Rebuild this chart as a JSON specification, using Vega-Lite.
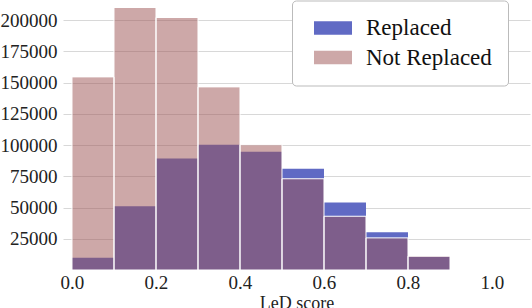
{
  "$schema": "https://vega.github.io/schema/vega-lite/v6.json",
  "width": 467,
  "height": 270,
  "autosize": {"type": "none"},
  "padding": {"left": 63, "top": 0, "right": 2, "bottom": 38},
  "background": "white",
  "config": {
    "view": {"stroke": null},
    "font": "Liberation Serif",
    "axis": {"labelColor": "#222", "titleColor": "#222", "titleFontWeight": "normal"}
  },
  "data": {"values": [
    {"bin_start": 0.0, "bin_end": 0.1, "count": 154500, "group": "Not Replaced"},
    {"bin_start": 0.1, "bin_end": 0.2, "count": 210000, "group": "Not Replaced"},
    {"bin_start": 0.2, "bin_end": 0.3, "count": 202000, "group": "Not Replaced"},
    {"bin_start": 0.3, "bin_end": 0.4, "count": 146500, "group": "Not Replaced"},
    {"bin_start": 0.4, "bin_end": 0.5, "count": 100200, "group": "Not Replaced"},
    {"bin_start": 0.5, "bin_end": 0.6, "count": 73000, "group": "Not Replaced"},
    {"bin_start": 0.6, "bin_end": 0.7, "count": 43000, "group": "Not Replaced"},
    {"bin_start": 0.7, "bin_end": 0.8, "count": 25700, "group": "Not Replaced"},
    {"bin_start": 0.8, "bin_end": 0.9, "count": 11100, "group": "Not Replaced"},
    {"bin_start": 0.0, "bin_end": 0.1, "count": 9800, "group": "Replaced"},
    {"bin_start": 0.1, "bin_end": 0.2, "count": 51000, "group": "Replaced"},
    {"bin_start": 0.2, "bin_end": 0.3, "count": 89300, "group": "Replaced"},
    {"bin_start": 0.3, "bin_end": 0.4, "count": 100200, "group": "Replaced"},
    {"bin_start": 0.4, "bin_end": 0.5, "count": 94700, "group": "Replaced"},
    {"bin_start": 0.5, "bin_end": 0.6, "count": 81000, "group": "Replaced"},
    {"bin_start": 0.6, "bin_end": 0.7, "count": 54000, "group": "Replaced"},
    {"bin_start": 0.7, "bin_end": 0.8, "count": 30200, "group": "Replaced"},
    {"bin_start": 0.8, "bin_end": 0.9, "count": 10600, "group": "Replaced"}
  ]},
  "encoding": {
    "x": {"field": "bin_start", "type": "quantitative",
      "scale": {"domain": [-0.0214, 1.0905], "nice": false, "zero": false},
      "axis": {"title": "LeD score", "values": [0, 0.2, 0.4, 0.6, 0.8, 1.0], "format": ".1f", "grid": false, "domain": false, "ticks": false, "labelFont": "Liberation Serif", "labelFontSize": 19, "labelPadding": 3, "titleFont": "Liberation Serif", "titleFontSize": 18, "titlePadding": 2}},
    "x2": {"field": "bin_end"},
    "y": {"field": "count", "type": "quantitative",
      "scale": {"domain": [0, 216000], "nice": false},
      "axis": {"title": null, "values": [25000, 50000, 75000, 100000, 125000, 150000, 175000, 200000], "format": "d", "grid": true, "gridColor": "#d8d8d8", "gridWidth": 1, "domain": false, "ticks": false, "labelFont": "Liberation Serif", "labelFontSize": 19, "labelPadding": 6}},
    "y2": {"datum": 0}
  },
  "layer": [
    {
      "transform": [{"filter": "datum.group === 'Replaced'"}],
      "mark": {"type": "rect", "stroke": null},
      "encoding": {
        "color": {"field": "group", "type": "nominal",
          "scale": {"domain": ["Replaced", "Not Replaced"], "range": ["#606ac4", "#9b5151"]},
          "legend": {"title": null, "orient": "none", "legendX": 229, "legendY": 0.5,
            "fillColor": "white", "strokeColor": "#bbbbbb", "cornerRadius": 4, "padding": 16,
            "symbolType": "M-2,-0.7H2V0.7H-2Z", "symbolSize": 361, "symbolStrokeWidth": 0, "symbolOffset": 13.5,
            "labelFont": "Liberation Serif", "labelFontSize": 23, "labelColor": "#111", "labelOffset": 21.5, "rowPadding": 5.5}},
        "opacity": {"field": "group", "type": "nominal",
          "scale": {"domain": ["Replaced", "Not Replaced"], "range": [1, 0.5]}}
      }
    },
    {
      "transform": [{"filter": "datum.group === 'Not Replaced'"}],
      "mark": {"type": "rect", "stroke": null},
      "encoding": {
        "color": {"field": "group", "type": "nominal"},
        "opacity": {"field": "group", "type": "nominal"}
      }
    },
    {
      "transform": [{"filter": "datum.group === 'Not Replaced'"}],
      "mark": {"type": "rect", "fill": null, "fillOpacity": 0, "stroke": "white", "strokeWidth": 1}
    }
  ]
}
